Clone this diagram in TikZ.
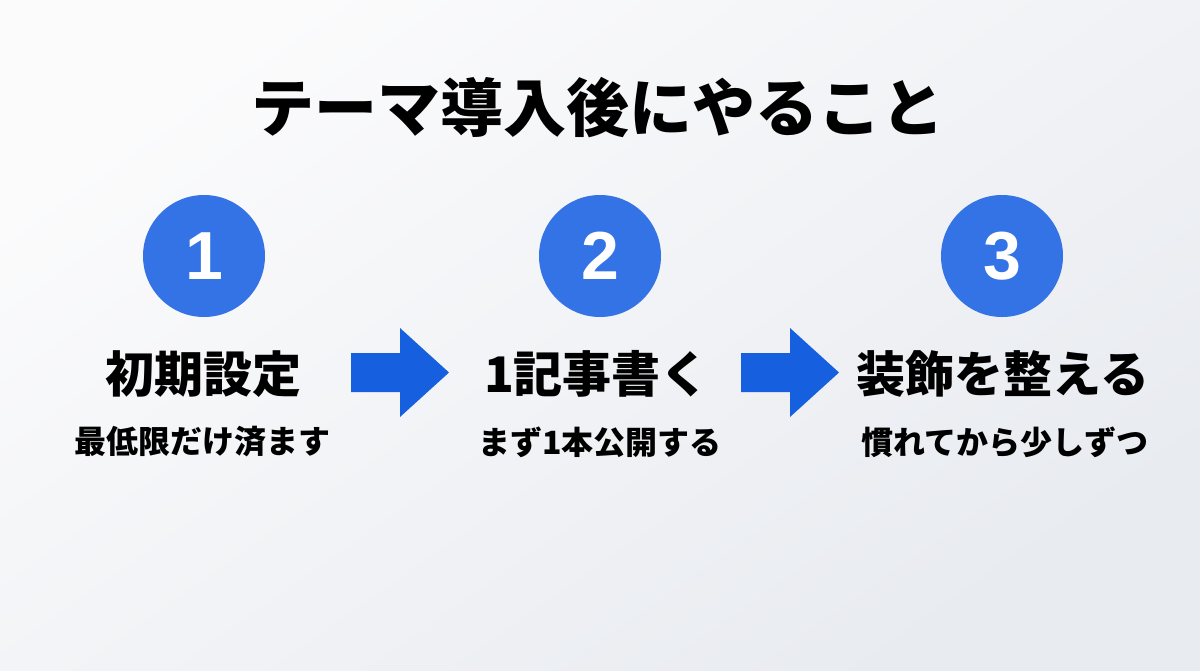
\documentclass[tikz,border=0pt]{standalone}
\usepackage{fontspec}
\newfontfamily\jp{Noto Sans CJK JP}
\newfontfamily\numfont{Liberation Sans}
\definecolor{circblue}{HTML}{3373E6}
\definecolor{arrblue}{HTML}{1660E0}
\definecolor{bgA}{HTML}{FBFBFC}
\definecolor{bgB}{HTML}{E8EBF0}
\tikzset{
  stepcircle/.style={circle, fill=circblue, minimum size=61pt, inner sep=0pt, text=white, font=\numfont\bfseries\fontsize{34pt}{34pt}\selectfont},
  steplabel/.style={font=\jp\bfseries\fontsize{24.5pt}{26pt}\selectfont, text=black, inner sep=0pt},
  stepsub/.style={font=\jp\bfseries\fontsize{16pt}{17pt}\selectfont, text=black, inner sep=0pt},
  blockarrow/.style={fill=arrblue}
}
\begin{document}
\begin{tikzpicture}[x=0.5pt,y=-0.5pt]
\shade[top color=bgA, bottom color=bgB, shading angle=35] (0,0) rectangle (1200,670);
\useasboundingbox (0,0) rectangle (1200,670);
\node[font=\jp\bfseries\fontsize{31.5pt}{33pt}\selectfont, inner sep=0pt] (title) at (598,108) {テーマ導入後にやること};
\node[stepcircle] (c1) at (204,256) {1};
\node[stepcircle] (c2) at (600,256) {2};
\node[stepcircle] (c3) at (1002,256) {3};
\node[steplabel] (l1) at (203,374) {初期設定};
\node[steplabel] (l2) at (597,374) {1記事書く};
\node[steplabel] (l3) at (1003,374) {装飾を整える};
\node[stepsub] (s1) at (203,442) {最低限だけ済ます};
\node[stepsub] (s2) at (600,442) {まず1本公開する};
\node[stepsub] (s3) at (1005,442) {慣れてから少しずつ};
\fill[blockarrow] (351,353) -- (400,353) -- (400,328) -- (449,372.5) -- (400,417) -- (400,392) -- (351,392) -- cycle;
\fill[blockarrow] (741,353) -- (790,353) -- (790,328) -- (839,372.5) -- (790,417) -- (790,392) -- (741,392) -- cycle;
\end{tikzpicture}
\end{document}
